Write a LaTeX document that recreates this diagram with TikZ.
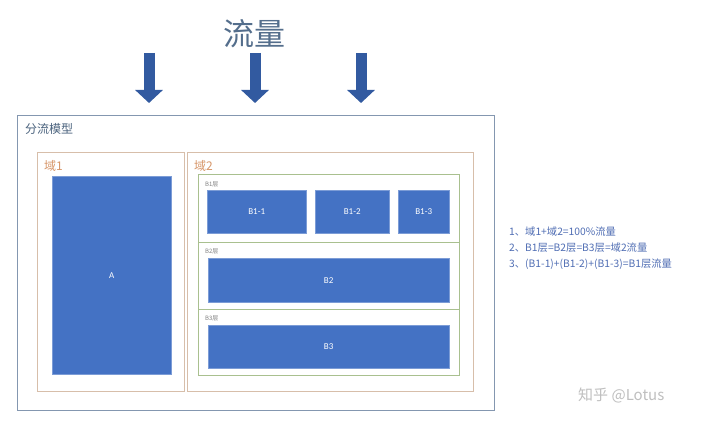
\documentclass[tikz,border=0pt]{standalone}
\usepackage{fontspec}
\setmainfont{Carlito}
\newfontfamily\cjk{Noto Sans CJK SC}
\usetikzlibrary{arrows.meta,positioning}
\definecolor{boxblue}{RGB}{68,114,196}
\definecolor{arrowblue}{RGB}{50,90,160}
\definecolor{titlegray}{RGB}{84,110,140}
\definecolor{framegray}{RGB}{132,151,176}
\definecolor{domainline}{RGB}{215,190,170}
\definecolor{domaintext}{RGB}{215,150,105}
\definecolor{layerline}{RGB}{169,192,143}
\definecolor{notetext}{RGB}{80,110,180}

\begin{document}
\begin{tikzpicture}[
    x=1pt, y=-1pt,
    frame/.style={rectangle, draw, anchor=north west, inner sep=0pt},
    block/.style={rectangle, fill=boxblue, draw=boxblue!70!white, anchor=north west, inner sep=0pt, text=white, font=\fontsize{9}{10}\selectfont},
    tag/.style={anchor=west, inner sep=0pt},
    flow/.style={arrowblue, line width=11pt, -{Triangle[width=27pt,length=13pt]}}
]
    \useasboundingbox[fill=white] (0,0) rectangle (720,422);

    % Title and incoming flow
    \node[text=titlegray, font=\cjk\fontsize{31}{33}\selectfont] (title) at (254,34) {流量};
    \foreach \i/\xx in {1/149,2/255,3/361} {
        \coordinate (s\i) at (\xx,53);
        \coordinate (e\i) at (\xx,103);
        \draw[flow] (s\i) -- (e\i);
    }

    % Model frame
    \node[frame, draw=framegray, minimum width=477pt, minimum height=295pt] (model) at (17,115) {};
    \node[tag, text=titlegray!90!black, font=\cjk\fontsize{12}{14}\selectfont] (modeltag) at (25,129) {分流模型};

    % Domain 1
    \node[frame, draw=domainline, minimum width=147pt, minimum height=239pt] (d1) at (37,152) {};
    \node[tag, text=domaintext, font=\cjk\fontsize{12}{14}\selectfont] (d1tag) at (44,166) {域1};
    \node[block, minimum width=119pt, minimum height=198pt] (a) at (52,176) {A};

    % Domain 2
    \node[frame, draw=domainline, minimum width=286pt, minimum height=239pt] (d2) at (187,152) {};
    \node[tag, text=domaintext, font=\cjk\fontsize{12}{14}\selectfont] (d2tag) at (194,166) {域2};

    % Layers
    \node[frame, draw=layerline, minimum width=261pt, minimum height=68pt] (l1) at (198,174) {};
    \node[frame, draw=layerline, minimum width=261pt, minimum height=67pt] (l2) at (198,242) {};
    \node[frame, draw=layerline, minimum width=261pt, minimum height=66pt] (l3) at (198,309) {};
    \node[tag, text=gray, font=\cjk\fontsize{6}{7}\selectfont] (l1tag) at (205,184) {B1层};
    \node[tag, text=gray, font=\cjk\fontsize{6}{7}\selectfont] (l2tag) at (205,251) {B2层};
    \node[tag, text=gray, font=\cjk\fontsize{6}{7}\selectfont] (l3tag) at (205,318) {B3层};

    \node[block, minimum width=99pt, minimum height=43pt] (b11) at (207,190) {B1-1};
    \node[block, minimum width=74pt, minimum height=43pt] (b12) at (315,190) {B1-2};
    \node[block, minimum width=51pt, minimum height=43pt] (b13) at (398,190) {B1-3};
    \node[block, minimum width=241pt, minimum height=44pt] (b2) at (208,258) {B2};
    \node[block, minimum width=241pt, minimum height=43pt] (b3) at (208,325) {B3};

    % Notes
    \node[tag, text=notetext, font=\cjk\fontsize{10.3}{16}\selectfont, align=left, anchor=north west] (notes) at (509,227)
        {1、域1+域2=100\%流量\\2、B1层=B2层=B3层=域2流量\\3、(B1-1)+(B1-2)+(B1-3)=B1层流量};

    % Watermark
    \node[tag, text=gray!50, font=\cjk\fontsize{15}{16}\selectfont] (mark) at (578,395) {知乎 @Lotus};
\end{tikzpicture}
\end{document}
